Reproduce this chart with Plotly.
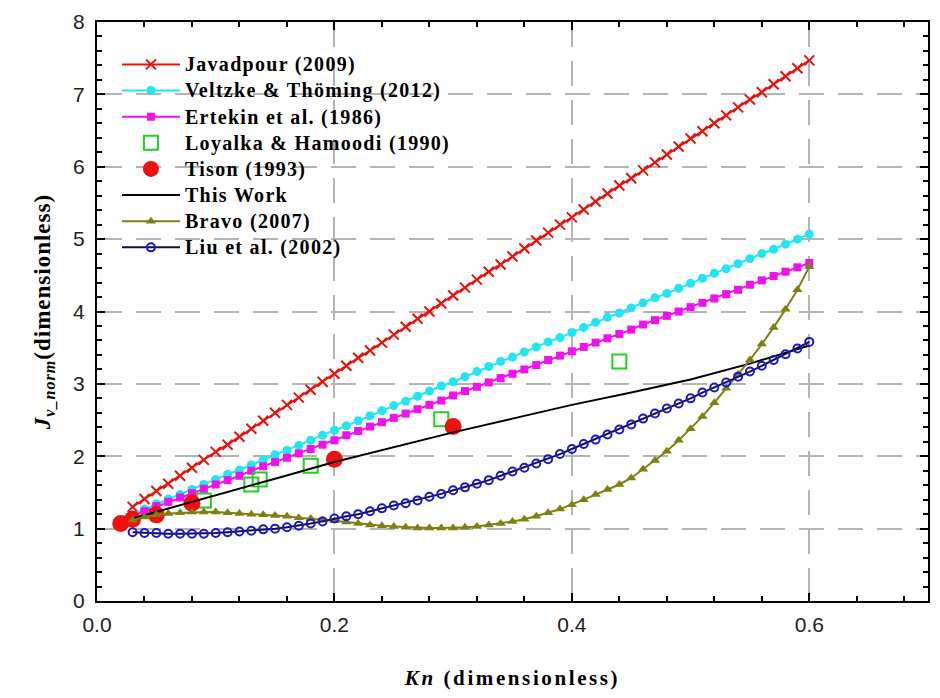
import plotly.graph_objects as go

# Knudsen numbers shared by the model curves
kn = [0.03, 0.04, 0.05, 0.06, 0.07, 0.08, 0.09, 0.10, 0.11, 0.12,
      0.13, 0.14, 0.15, 0.16, 0.17, 0.18, 0.19, 0.20, 0.21, 0.22,
      0.23, 0.24, 0.25, 0.26, 0.27, 0.28, 0.29, 0.30, 0.31, 0.32,
      0.33, 0.34, 0.35, 0.36, 0.37, 0.38, 0.39, 0.40, 0.41, 0.42,
      0.43, 0.44, 0.45, 0.46, 0.47, 0.48, 0.49, 0.50, 0.51, 0.52,
      0.53, 0.54, 0.55, 0.56, 0.57, 0.58, 0.59, 0.60]

javadpour = [1.30, 1.41, 1.52, 1.62, 1.73, 1.84, 1.95, 2.06, 2.16, 2.27,
             2.38, 2.49, 2.60, 2.71, 2.81, 2.92, 3.03, 3.14, 3.25, 3.36,
             3.46, 3.57, 3.68, 3.79, 3.90, 4.00, 4.11, 4.22, 4.33, 4.44,
             4.55, 4.65, 4.76, 4.87, 4.98, 5.09, 5.20, 5.30, 5.41, 5.52,
             5.63, 5.74, 5.84, 5.95, 6.06, 6.17, 6.28, 6.39, 6.49, 6.60,
             6.71, 6.82, 6.93, 7.03, 7.14, 7.25, 7.36, 7.47]

veltzke = [1.20, 1.27, 1.34, 1.41, 1.47, 1.54, 1.61, 1.68, 1.75, 1.81,
           1.88, 1.95, 2.02, 2.08, 2.15, 2.22, 2.29, 2.36, 2.42, 2.49,
           2.56, 2.63, 2.70, 2.76, 2.83, 2.90, 2.97, 3.03, 3.10, 3.17,
           3.24, 3.31, 3.37, 3.44, 3.51, 3.58, 3.64, 3.71, 3.78, 3.85,
           3.92, 3.98, 4.05, 4.12, 4.19, 4.25, 4.32, 4.39, 4.46, 4.53,
           4.59, 4.66, 4.73, 4.80, 4.86, 4.93, 5.00, 5.07]

ertekin = [1.18, 1.24, 1.31, 1.37, 1.43, 1.49, 1.55, 1.61, 1.67, 1.73,
           1.80, 1.86, 1.92, 1.98, 2.04, 2.10, 2.16, 2.22, 2.29, 2.35,
           2.41, 2.47, 2.53, 2.59, 2.65, 2.71, 2.77, 2.84, 2.90, 2.96,
           3.02, 3.08, 3.14, 3.20, 3.26, 3.33, 3.39, 3.45, 3.51, 3.57,
           3.63, 3.69, 3.75, 3.82, 3.88, 3.94, 4.00, 4.06, 4.12, 4.18,
           4.24, 4.30, 4.37, 4.43, 4.49, 4.55, 4.61, 4.67]

bravo = [1.12, 1.16, 1.19, 1.21, 1.22, 1.23, 1.23, 1.23, 1.22, 1.21,
         1.20, 1.19, 1.18, 1.17, 1.15, 1.14, 1.12, 1.11, 1.09, 1.07,
         1.05, 1.04, 1.03, 1.02, 1.01, 1.01, 1.01, 1.01, 1.02, 1.03,
         1.05, 1.07, 1.10, 1.13, 1.17, 1.22, 1.27, 1.33, 1.40, 1.47,
         1.54, 1.61, 1.70, 1.82, 1.94, 2.07, 2.22, 2.38, 2.55, 2.74,
         2.94, 3.13, 3.33, 3.55, 3.78, 4.03, 4.30, 4.62]

liu = [0.95, 0.94, 0.94, 0.93, 0.93, 0.93, 0.93, 0.94, 0.95, 0.96,
       0.97, 0.99, 1.00, 1.02, 1.04, 1.07, 1.10, 1.14, 1.17, 1.20,
       1.24, 1.28, 1.32, 1.35, 1.39, 1.44, 1.48, 1.53, 1.57, 1.62,
       1.67, 1.73, 1.79, 1.84, 1.90, 1.96, 2.03, 2.10, 2.17, 2.23,
       2.30, 2.37, 2.44, 2.52, 2.59, 2.66, 2.73, 2.80, 2.88, 2.95,
       3.02, 3.10, 3.17, 3.25, 3.33, 3.41, 3.49, 3.58]

# Present model (continuous line)
this_work_kn = [0.03, 0.05, 0.10, 0.15, 0.20, 0.25, 0.30, 0.35, 0.40, 0.45, 0.50, 0.55, 0.60]
this_work = [1.14, 1.23, 1.46, 1.69, 1.92, 2.13, 2.33, 2.52, 2.71, 2.88, 3.06, 3.28, 3.53]

# Measured / reference data points
loyalka_kn = [0.09, 0.13, 0.137, 0.18, 0.29, 0.44]
loyalka = [1.39, 1.61, 1.68, 1.87, 2.51, 3.31]

tison_kn = [0.02, 0.03, 0.05, 0.08, 0.20, 0.30]
tison = [1.07, 1.13, 1.19, 1.35, 1.96, 2.41]

SERIF = "Liberation Serif"
SANS = "Liberation Sans"


def legend_label(text):
    # wider, slightly letter-spaced legend text
    return f'<span style="font-size:20px;letter-spacing:1.3px">{text}</span>'


fig = go.Figure()

fig.add_trace(go.Scatter(
    x=kn, y=javadpour, name=legend_label("Javadpour (2009)"), mode="lines+markers",
    line=dict(color="#e8120c", width=2),
    marker=dict(symbol="x-thin", size=10, line=dict(color="#e8120c", width=2))))

fig.add_trace(go.Scatter(
    x=kn, y=veltzke, name=legend_label("Veltzke & Thöming (2012)"), mode="lines+markers",
    line=dict(color="#22e5f0", width=2),
    marker=dict(symbol="circle", size=9, color="#22e5f0")))

fig.add_trace(go.Scatter(
    x=kn, y=ertekin, name=legend_label("Ertekin et al. (1986)"), mode="lines+markers",
    line=dict(color="#f010f0", width=2),
    marker=dict(symbol="square", size=8, color="#f010f0")))

fig.add_trace(go.Scatter(
    x=loyalka_kn, y=loyalka, name=legend_label("Loyalka & Hamoodi (1990)"), mode="markers",
    marker=dict(symbol="square-open", size=14, color="#22d022",
                line=dict(color="#22d022", width=2))))

fig.add_trace(go.Scatter(
    x=tison_kn, y=tison, name=legend_label("Tison (1993)"), mode="markers",
    marker=dict(symbol="circle", size=17, color="#f01010")))

fig.add_trace(go.Scatter(
    x=this_work_kn, y=this_work, name=legend_label("This Work"), mode="lines",
    line=dict(color="black", width=2)))

fig.add_trace(go.Scatter(
    x=kn, y=bravo, name=legend_label("Bravo (2007)"), mode="lines+markers",
    line=dict(color="#808010", width=2),
    marker=dict(symbol="triangle-up", size=9, color="#808010")))

fig.add_trace(go.Scatter(
    x=kn, y=liu, name=legend_label("Liu et al. (2002)"), mode="lines+markers",
    line=dict(color="#101040", width=2),
    marker=dict(symbol="circle-open", size=8, color="#1a1acc",
                line=dict(color="#1a1acc", width=2))))

axis_common = dict(
    showline=True, linecolor="black", linewidth=2, mirror="allticks",
    ticks="inside", ticklen=8, tickwidth=2, tickcolor="black",
    showgrid=True, gridcolor="#b4b4b4", gridwidth=2, griddash="25px,14px",
    zeroline=False,
    tickfont=dict(family=SANS, size=21, color="#222222"),
)

fig.update_xaxes(
    **axis_common,
    range=[0, 0.7], tick0=0, dtick=0.2, tickformat=".1f",
    minor=dict(dtick=0.04, tick0=0, ticks="inside", ticklen=5, tickwidth=1.5,
               tickcolor="black", showgrid=False),
    ticklabelstandoff=4,
    title=dict(text='<b><span style="letter-spacing:2.6px"><i>Kn</i> (dimensionless)</span></b>',
               font=dict(family=SERIF, size=21, color="black"), standoff=35),
)

fig.update_yaxes(
    **axis_common,
    range=[0, 8], tick0=0, dtick=1,
    minor=dict(dtick=0.2, tick0=0, ticks="inside", ticklen=5, tickwidth=1.5,
               tickcolor="black", showgrid=False),
    ticklabelstandoff=6,
    title=dict(text='<b><span style="letter-spacing:1px"><i>J</i><sub><i>v_norm</i></sub>(dimensionless)</span></b>',
               font=dict(family=SERIF, size=23, color="black"), standoff=16),
)

fig.update_layout(
    width=940, height=698,
    margin=dict(l=97, r=10, t=17, b=97),
    paper_bgcolor="white", plot_bgcolor="white",
    showlegend=True,
    legend=dict(
        x=0.024, y=0.958, xanchor="left", yanchor="top",
        bgcolor="rgba(0,0,0,0)", borderwidth=0,
        font=dict(family=SERIF, size=17.8, color="black", weight="bold"),
        tracegroupgap=0, itemsizing="trace", itemwidth=58,
    ),
)

fig.write_html("out.html")
